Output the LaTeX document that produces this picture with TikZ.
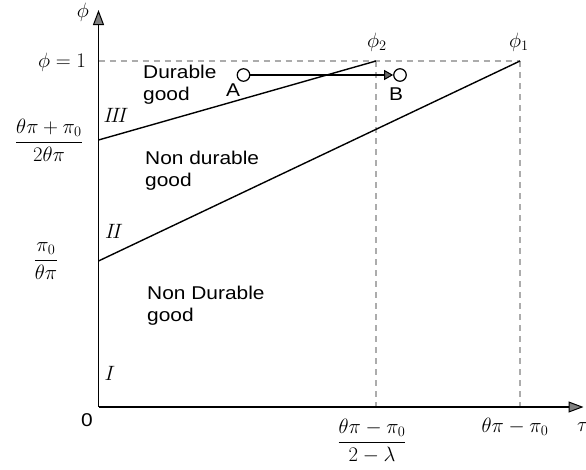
\documentclass[tikz,border=0pt]{standalone}
\usepackage{amsmath}
\usepackage{graphicx}
\usepackage{fontspec}
\newfontfamily\helv{Liberation Sans}
\newcommand\widetext[1]{\scalebox{1.13}[1]{#1}}
\usetikzlibrary{arrows.meta}
\begin{document}
\begin{tikzpicture}[x=1pt,y=-1pt,
  axis/.style={line width=1.6pt,-{Triangle[length=15pt,width=11pt,fill=gray,line width=1pt]}},
  curve/.style={line width=1.4pt},
  guide/.style={gray!65,line width=1.1pt,dash pattern=on 6pt off 5pt},
  sans/.style={font=\helv\fontsize{18.5}{23}\selectfont,inner sep=0pt},
  region/.style={sans,align=left,anchor=west},
  mathlbl/.style={font=\fontsize{20.5}{24}\selectfont,inner sep=0pt},
  pt/.style={circle,draw,fill=white,line width=1.2pt,minimum size=12.5pt,inner sep=0pt}]
\useasboundingbox (0,0) rectangle (586,469);
\coordinate (O) at (98.5,407);
\coordinate (ytop) at (98.5,10);
\coordinate (xend) at (583.5,407);
\coordinate (y1) at (98.5,61);
\coordinate (p2) at (376,61);
\coordinate (p1) at (520,61);
\coordinate (p2b) at (376,407);
\coordinate (p1b) at (520,407);
\coordinate (c3) at (98.5,140);
\coordinate (c2) at (98.5,261);
% guides
\draw[guide] (y1) -- (p1);
\draw[guide] (p2) -- (p2b);
\draw[guide] (p1) -- (p1b);
% axes
\draw[axis] (O) -- (ytop);
\draw[axis] (O) -- (xend);
% lines
\draw[curve] (c3) -- (p2);
\draw[curve] (c2) -- (p1);
% points
\node[pt] (A) at (243.5,75) {};
\node[pt] (B) at (400,75) {};
\draw[line width=1.2pt,-{Triangle[length=9pt,width=10pt,fill=gray!80!black,line width=1pt]}] (A) -- (B);
\node[sans] (Al) at (233,90) {\widetext{A}};
\node[sans] (Bl) at (396,94) {\widetext{B}};
% region labels
\node[region] (r1) at (143,85) {\widetext{\begin{tabular}{@{}l@{}}Durable\\[-1pt]good\end{tabular}}};
\node[region] (r2) at (145,171) {\widetext{\begin{tabular}{@{}l@{}}Non durable\\[-1pt]good\end{tabular}}};
\node[region] (r3) at (147,306) {\widetext{\begin{tabular}{@{}l@{}}Non Durable\\[-1pt]good\end{tabular}}};
\node[mathlbl] (rIII) at (116,115) {$I\!I\!I$};
\node[mathlbl] (rII) at (114,231) {$I\!I$};
\node[mathlbl] (rI) at (110,373) {$I$};
% axis labels
\node[mathlbl] (phi) at (83,12) {$\phi$};
\node[mathlbl,anchor=west] (tau) at (577,427) {$\tau$};
\node[sans] (zero) at (87,420) {\widetext{0}};
\node[mathlbl] (phi1lbl) at (62,62) {$\phi=1$};
\node[mathlbl] (f3) at (49,140) {$\dfrac{\theta\pi+\pi_0}{2\theta\pi}$};
\node[mathlbl] (f2) at (46,261) {$\dfrac{\pi_0}{\theta\pi}$};
\node[mathlbl] (fx2) at (372,441) {$\dfrac{\theta\pi-\pi_0}{2-\lambda}$};
\node[mathlbl] (fx1) at (515,427) {$\theta\pi-\pi_0$};
\node[mathlbl] (phi2) at (377,42) {$\phi_2$};
\node[mathlbl] (phi1) at (519,42) {$\phi_1$};
\end{tikzpicture}
\end{document}
